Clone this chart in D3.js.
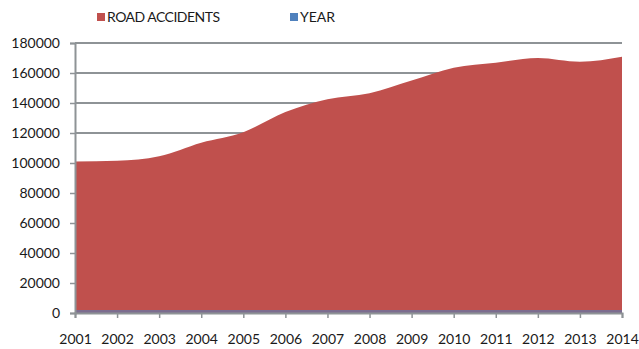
<!DOCTYPE html>
<html>
<head>
<meta charset="utf-8">
<script src="https://cdn.jsdelivr.net/npm/d3@7"></script>
<style>
  body { margin: 0; background: #fff; }
  text { font-family: Lato, "Open Sans", sans-serif; fill: #1a1a1a; }
</style>
</head>
<body>
<div id="chart"></div>
<script>
// chart data
var years = [2001, 2002, 2003, 2004, 2005, 2006, 2007, 2008, 2009, 2010, 2011, 2012, 2013, 2014];
var roadAccidents = [101000, 101500, 104500, 113500, 120500, 134000, 142500, 146500, 155000, 163500, 166800, 170000, 167500, 170800];
var yearSeries = [2001, 2002, 2003, 2004, 2005, 2006, 2007, 2008, 2009, 2010, 2011, 2012, 2013, 2014];
var yTicks = [0, 20000, 40000, 60000, 80000, 100000, 120000, 140000, 160000, 180000];
var seriesNames = ["ROAD ACCIDENTS", "YEAR"];
var seriesColors = ["#c0504d", "#4f81bd"];

function drawChart() {
    var w = 639;
    var h = 349;
    var left = 75, right = 622, top = 43, bottom = 313;

    var svg = d3.select("#chart")
                .append("svg")
                .attr("width", w)
                .attr("height", h);

    var xScale = d3.scalePoint()
                .domain(years)
                .range([left, right]);

    var yScale = d3.scaleLinear()
                .domain([0, 180000])
                .range([bottom, top]);

    // gridlines (behind the areas)
    svg.append("g")
        .selectAll("line")
        .data(yTicks)
        .enter()
        .append("line")
        .attr("x1", left)
        .attr("x2", right)
        .attr("y1", d => yScale(d))
        .attr("y2", d => yScale(d))
        .attr("stroke", "#8e9396")
        .attr("stroke-width", 2);

    var area = function(values) {
        return d3.area()
            .x((d, i) => xScale(years[i]))
            .y0(yScale(0))
            .y1(d => yScale(d))
            .curve(d3.curveMonotoneX)(values);
    };

    // road accidents area
    svg.append("path")
        .attr("d", area(roadAccidents))
        .attr("fill", seriesColors[0]);

    // year series (tiny strip at the bottom)
    svg.append("path")
        .attr("d", area(yearSeries))
        .attr("fill", seriesColors[1])
        .attr("opacity", 0.6);

    // y axis
    var yAxis = d3.axisLeft(yScale)
                .tickValues(yTicks)
                .tickSize(5)
                .tickPadding(10)
                .tickFormat(d3.format("d"));

    var gy = svg.append("g")
        .attr("transform", "translate(" + left + ",0)")
        .call(yAxis);
    gy.select(".domain").attr("stroke", "#8e9396").attr("stroke-width", 2);
    gy.selectAll(".tick line").attr("stroke", "#8e9396").attr("stroke-width", 1.5);
    gy.selectAll("text").style("font-size", "14px").attr("fill", "#1a1a1a");

    // x axis
    var xAxis = d3.axisBottom(xScale)
                .tickSize(5)
                .tickPadding(16)
                .tickFormat(d3.format("d"));

    var gx = svg.append("g")
        .attr("transform", "translate(0," + bottom + ")")
        .call(xAxis);
    gx.select(".domain").attr("stroke", "#8e9396").attr("stroke-width", 2);
    gx.selectAll(".tick line").attr("stroke", "#8e9396").attr("stroke-width", 1.5);
    gx.selectAll("text").style("font-size", "14px").attr("fill", "#1a1a1a");

    // legend
    var legendX = [97, 290];
    var legend = svg.append("g")
        .selectAll("g")
        .data(seriesNames)
        .enter()
        .append("g")
        .attr("transform", (d, i) => "translate(" + legendX[i] + ",13)");

    legend.append("rect")
        .attr("width", 8)
        .attr("height", 8)
        .attr("fill", (d, i) => seriesColors[i]);

    legend.append("text")
        .attr("x", 10)
        .attr("y", 9)
        .style("font-size", "14px")
        .attr("textLength", (d, i) => i === 0 ? 113 : null)
        .text(d => d);
}

drawChart();
</script>
</body>
</html>
